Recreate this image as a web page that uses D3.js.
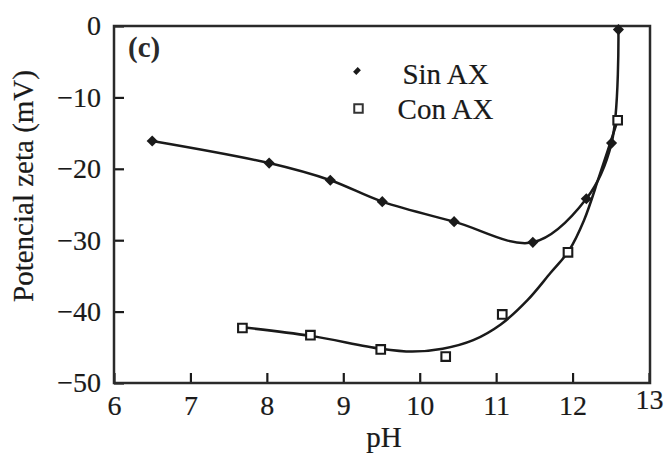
<!DOCTYPE html>
<html>
<head>
<meta charset="utf-8">
<script src="https://cdn.jsdelivr.net/npm/d3@7"></script>
<style>
  html, body { margin: 0; padding: 0; background: #fff; }
  svg { display: block; }
</style>
</head>
<body>
<svg id="chart" width="664" height="453"></svg>
<script>
// Zeta potential vs pH, without and with AX
const sinPH   = [6.5, 8.03, 8.83, 9.51, 10.45, 11.48, 12.18, 12.51, 12.6];
const sinZeta = [-16.1, -19.2, -21.6, -24.6, -27.4, -30.3, -24.2, -16.4, -0.5];

const conPH   = [7.68, 8.57, 9.49, 10.34, 11.08, 11.94, 12.59];
const conZeta = [-42.3, -43.3, -45.3, -46.3, -40.4, -31.7, -13.2];

// fitted trend for the "Con AX" series
const conFitPH   = [7.68, 8.57, 9.49, 9.9, 10.3, 10.7, 11.06, 11.41, 11.71, 11.95, 12.15, 12.35, 12.59];
const conFitZeta = [-42.2, -43.4, -45.2, -45.6, -45.2, -44.0, -41.8, -38.4, -34.6, -31.5, -27.2, -21.0, -13.2];

const xTicks = [6, 7, 8, 9, 10, 11, 12, 13];
const yTicks = [0, -10, -20, -30, -40, -50];
const legendLabels = ["Sin AX", "Con AX"];

const svg = d3.select("#chart");
const mLeft = 114, mRight = 649, mTop = 26, mBottom = 383;

const x = d3.scaleLinear().domain([6, 13]).range([mLeft, mRight]);
const y = d3.scaleLinear().domain([-50, 0]).range([mBottom, mTop]);

const ink = "#1a1a1a";
const FONT = '"Liberation Serif"';
const FS = "28px";

function serif(sel, size) {
  return sel.style("font-family", FONT).style("font-size", size || FS)
    .style("fill", ink).style("stroke", ink).style("stroke-width", "0.2px");
}

// x axis
const gx = svg.append("g")
  .attr("transform", `translate(0,${mBottom})`)
  .call(d3.axisBottom(x).tickValues(xTicks).tickSizeInner(-10).tickSizeOuter(0).tickPadding(12).tickFormat(d3.format("d")));
gx.select(".domain").remove();
gx.selectAll(".tick line").attr("stroke", ink).attr("stroke-width", 2.2);
serif(gx.selectAll(".tick text"));
gx.selectAll(".tick text").filter(d => d === 13).attr("transform", "translate(0,-6)");

// y axis
const gy = svg.append("g")
  .attr("transform", `translate(${mLeft},0)`)
  .call(d3.axisLeft(y).tickValues(yTicks).tickSizeInner(-10).tickSizeOuter(0).tickPadding(13).tickFormat(d3.format("d")));
gy.select(".domain").remove();
gy.selectAll(".tick line").attr("stroke", ink).attr("stroke-width", 2.2);
serif(gy.selectAll(".tick text"));

// plot frame
svg.append("rect")
  .attr("x", mLeft).attr("y", mTop)
  .attr("width", mRight - mLeft + 1).attr("height", mBottom - mTop)
  .attr("fill", "none").attr("stroke", "#2a2a2a").attr("stroke-width", 2.5);

// axis titles
serif(svg.append("text")
  .attr("x", 384).attr("y", 447)
  .attr("text-anchor", "middle"), "29px")
  .text("pH");

serif(svg.append("text")
  .attr("transform", "translate(33,186) rotate(-90)")
  .attr("text-anchor", "middle"), "29px")
  .text("Potencial zeta (mV)");

// panel tag
svg.append("text")
  .attr("x", 128).attr("y", 57)
  .style("font-family", FONT).style("font-size", "29px")
  .style("font-weight", "bold").style("fill", "#2a2a2a")
  .text("(c)");

// curves
const line = d3.line().curve(d3.curveCatmullRom.alpha(0.5));

const sinPts = sinPH.map((p, i) => [x(p), y(sinZeta[i])]);
const conFitPts = conFitPH.map((p, i) => [x(p), y(conFitZeta[i])]);

svg.append("path").attr("d", line(conFitPts))
  .attr("fill", "none").attr("stroke", ink).attr("stroke-width", 2.5);
svg.append("path").attr("d", line(sinPts))
  .attr("fill", "none").attr("stroke", ink).attr("stroke-width", 2.5);

// markers
const diamond = d3.symbol().type(d3.symbolSquare).size(62);
const square = d3.symbol().type(d3.symbolSquare).size(74);

svg.append("g").selectAll("path")
  .data(sinPH)
  .join("path")
  .attr("d", diamond)
  .attr("transform", (p, i) => `translate(${x(p)},${y(sinZeta[i])}) rotate(45)`)
  .attr("fill", ink);

svg.append("g").selectAll("path")
  .data(conPH)
  .join("path")
  .attr("d", square)
  .attr("transform", (p, i) => `translate(${x(p)},${y(conZeta[i])})`)
  .attr("fill", "#fff").attr("stroke", ink).attr("stroke-width", 2.1);

// legend
const lg = svg.append("g");
lg.append("path")
  .attr("d", d3.symbol().type(d3.symbolSquare).size(32))
  .attr("transform", "translate(357,71) rotate(45) scale(0.8,1.15)")
  .attr("fill", ink);
lg.append("path")
  .attr("d", d3.symbol().type(d3.symbolSquare).size(72))
  .attr("transform", "translate(358.5,108.5)")
  .attr("fill", "#fff").attr("stroke", "#333").attr("stroke-width", 2);
serif(lg.selectAll("text")
  .data(legendLabels)
  .join("text")
  .attr("x", 445.5)
  .attr("y", (d, i) => i === 0 ? 84 : 119)
  .attr("text-anchor", "middle"), "29px")
  .text(d => d);
</script>
</body>
</html>
